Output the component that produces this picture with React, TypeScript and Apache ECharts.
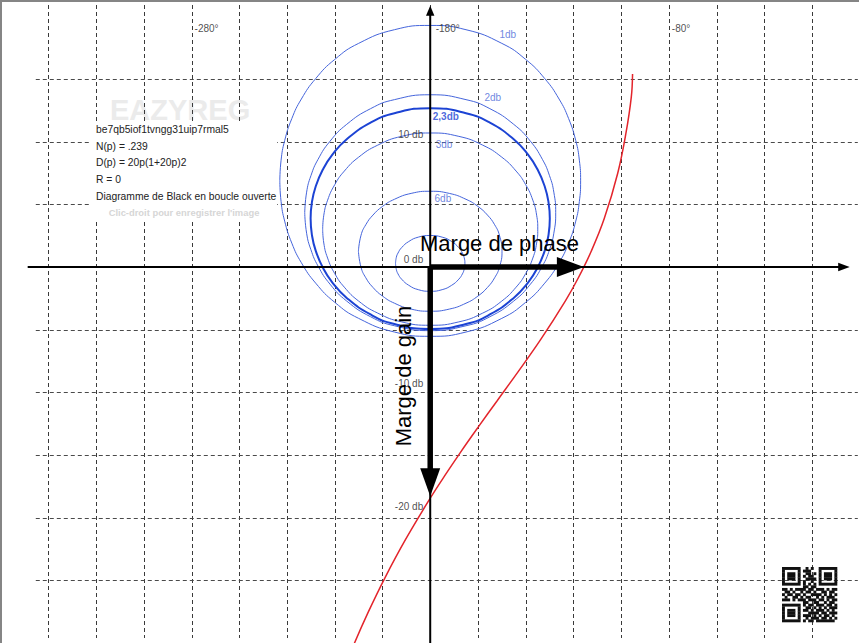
import React, { useEffect, useRef } from "react";
import * as echarts from "echarts";

const FONT = "'Liberation Sans', Arial, Helvetica, sans-serif";

// ---- axis ranges (phase in degrees, gain in dB) ----
const PHASE_MIN = -360.3;
const PHASE_MAX = -0.3;
const GAIN_MIN = -30.0;
const GAIN_MAX = 21.3;

// ---- grid ticks ----
const phaseGridTicks = [-340, -320, -300, -280, -260, -240, -220, -200, -180, -160, -140, -120, -100, -80, -60, -40, -20];
const gainGridTicks = [15, 10, 5, -5, -10, -15, -20, -25];
const phaseTickLabels = [-280, -180, -80];
const gainTickLabels = [10, 0, -10, -20];

// extents of the dashed grid (data space)
const V_GRID_TOP = 20.9;
const V_GRID_BOTTOM = -29.6;
const H_GRID_LEFT = -345.3;
const H_GRID_RIGHT = -0.8;

// ---- open loop transfer: N(p)=.239, D(p)=20p(1+20p)^2 : [phase, gain dB] ----
const openLoop = [
  [-95.2, 15.4], [-95.72, 13.57], [-98.01, 10.63], [-101.42, 7.48], [-107.06, 3.86],
  [-112.62, 1.21], [-118.07, -0.92], [-123.4, -2.72], [-133.6, -5.76], [-143.13, -8.35],
  [-151.93, -10.67], [-159.98, -12.8], [-167.32, -14.79], [-173.97, -16.67], [-180, -18.45],
  [-190.38, -21.76], [-198.92, -24.78], [-205.98, -27.54], [-211.9, -30.08], [-216.87, -32.43],
];

// ---- closed-loop iso-gain contours (Black-Nichols) ----
const m1db = [
  [-243.03, 6.87], [-242.5, 8.52], [-241, 10.08], [-238, 11.84], [-234, 13.4], [-228, 15.03], [-220, 16.56], [-210, 17.84], [-195, 18.93],
  [-180, 19.27], [-165, 18.93], [-150, 17.84], [-140, 16.56], [-132, 15.03], [-126, 13.4], [-122, 11.84], [-119, 10.08], [-117.5, 8.52],
  [-116.97, 6.87], [-117.5, 5.22], [-119, 3.66], [-122, 1.9], [-126, 0.34], [-132, -1.29], [-140, -2.82], [-150, -4.1], [-165, -5.19],
  [-180, -5.53], [-195, -5.19], [-210, -4.1], [-220, -2.82], [-228, -1.29], [-234, 0.34], [-238, 1.9], [-241, 3.66], [-242.5, 5.22],
  [-243.03, 6.87],
];
const m2db = [
  [-232.59, 4.33], [-231.8, 5.97], [-230, 7.28], [-227, 8.59], [-222, 10.03], [-215, 11.38], [-205, 12.63], [-195, 13.35],
  [-180, 13.74], [-165, 13.35], [-155, 12.63], [-145, 11.38], [-138, 10.03], [-133, 8.59], [-130, 7.28], [-128.2, 5.97],
  [-127.41, 4.33], [-128.2, 2.69], [-130, 1.38], [-133, 0.07], [-138, -1.37], [-145, -2.72], [-155, -3.97], [-165, -4.69],
  [-180, -5.08], [-195, -4.69], [-205, -3.97], [-215, -2.72], [-222, -1.37], [-227, 0.07], [-230, 1.38], [-231.8, 2.69],
  [-232.59, 4.33],
];
const m23db = [
  [-230.12, 3.86], [-229.6, 5.14], [-228, 6.42], [-225, 7.77], [-221, 8.96], [-215, 10.19], [-205, 11.51], [-195, 12.27],
  [-180, 12.67], [-165, 12.27], [-155, 11.51], [-145, 10.19], [-139, 8.96], [-135, 7.77], [-132, 6.42], [-130.4, 5.14],
  [-129.88, 3.86], [-130.4, 2.58], [-132, 1.3], [-135, -0.05], [-139, -1.24], [-145, -2.47], [-155, -3.79], [-165, -4.55],
  [-180, -4.95], [-195, -4.55], [-205, -3.79], [-215, -2.47], [-221, -1.24], [-225, -0.05], [-228, 1.3], [-229.6, 2.58],
  [-230.12, 3.86],
];
const m3db = [
  [-225.07, 3.02], [-224.6, 4.13], [-223, 5.33], [-220, 6.57], [-216, 7.65], [-210, 8.76], [-202, 9.72], [-192, 10.42],
  [-180, 10.69], [-168, 10.42], [-158, 9.72], [-150, 8.76], [-144, 7.65], [-140, 6.57], [-137, 5.33], [-135.4, 4.13],
  [-134.93, 3.02], [-135.4, 1.91], [-137, 0.71], [-140, -0.53], [-144, -1.61], [-150, -2.72], [-158, -3.68], [-168, -4.38],
  [-180, -4.65], [-192, -4.38], [-202, -3.68], [-210, -2.72], [-216, -1.61], [-220, -0.53], [-223, 0.71], [-224.6, 1.91],
  [-225.07, 3.02],
];
const m6db = [
  [-210.09, 1.26], [-209, 2.53], [-207, 3.37], [-204, 4.14], [-200, 4.83], [-195, 5.4], [-188, 5.87],
  [-180, 6.04], [-172, 5.87], [-165, 5.4], [-160, 4.83], [-156, 4.14], [-153, 3.37], [-151, 2.53],
  [-149.91, 1.26], [-151, -0.02], [-153, -0.86], [-156, -1.63], [-160, -2.32], [-165, -2.89], [-172, -3.36],
  [-180, -3.53], [-188, -3.36], [-195, -2.89], [-200, -2.32], [-204, -1.63], [-207, -0.86], [-209, -0.02],
  [-210.09, 1.26],
];
const m12db = [
  [-194.54, 0.28], [-194.2, 0.77], [-193.5, 1.11], [-192, 1.54], [-189, 2.03], [-185, 2.38],
  [-180, 2.51], [-175, 2.38], [-171, 2.03], [-168, 1.54], [-166.5, 1.11], [-165.8, 0.77],
  [-165.46, 0.28], [-165.8, -0.2], [-166.5, -0.55], [-168, -0.97], [-171, -1.46], [-175, -1.81],
  [-180, -1.94], [-185, -1.81], [-189, -1.46], [-192, -0.97], [-193.5, -0.55], [-194.2, -0.2],
  [-194.54, 0.28],
];

const contourNames = ["1db", "2db", "2,3db", "3db", "6db", "12db"];
const contourData = [m1db, m2db, m23db, m3db, m6db, m12db];

// label anchors for contour names [phase, gain]
const contourLabelNames = ["1db", "2db", "2,3db", "3db", "6db"];
const contourLabelAnchors = [[-151.2, 18.51], [-157.5, 13.51], [-179.15, 11.99], [-177.9, 9.79], [-178.4, 5.48]];

// margins
const phaseMarginPhase = -115.6; // phase where gain crosses 0 dB
const gainMarginGain = -18.3; // gain where phase crosses -180°

// axes extents
const axisHLeft = -348.7;
const axisHRight = -4.2;
const axisVTop = 20.85;

const infoLines = [
  "be7qb5iof1tvngg31uip7rmal5",
  "N(p) = .239",
  "D(p) = 20p(1+20p)2",
  "R = 0",
  "Diagramme de Black en boucle ouverte",
];
const infoLineY = [129.5, 146, 162, 179, 196];

const qrRows = [
  "111111100101001111111",
  "100000101110001000001",
  "101110100110101011101",
  "101110101011001011101",
  "101110100111101011101",
  "100000101001001000001",
  "111111101010101111111",
  "000000001101100000000",
  "110101111011011101011",
  "011010010110100110110",
  "101101101001111010101",
  "010011010110010101110",
  "111010111011101101011",
  "000000001100110010110",
  "111111101011011101101",
  "100000100110101010111",
  "101110101101011101010",
  "101110100011110110111",
  "101110101110101011010",
  "100000100101110110101",
  "111111101011011111110",
];

const BLUE = "#4565dc";
const BLUE_DARK = "#1c43d4";
const LABEL_BLUE = "#4a68d8";

function qrElements() {
  const x0 = 782, y0 = 567, cell = 55 / 21;
  const els: any[] = [];
  qrRows.forEach((row, r) => {
    let c = 0;
    while (c < row.length) {
      if (row[c] === "1") {
        let e = c;
        while (e < row.length && row[e] === "1") e++;
        els.push({
          type: "rect",
          shape: { x: x0 + c * cell, y: y0 + r * cell, width: (e - c) * cell + 0.3, height: cell + 0.3 },
          style: { fill: "#111" },
          z: 20,
          silent: true,
        });
        c = e;
      } else c++;
    }
  });
  return els;
}

export default function App() {
  const ref = useRef<HTMLDivElement>(null);
  useEffect(() => {
    document.body.style.margin = "0";
    if (!ref.current) return;
    const chart = echarts.init(ref.current, null, { renderer: "svg" });

    const arrowShaft = [2, 2, 5.5, 5.5];
    const arrowHead = [[11.5, 4.2], [10, 4.2], [27, 10], [28, 10]];

    const contourSeries = contourData.map((d, i) => ({
      type: "line",
      name: contourNames[i],
      data: d,
      showSymbol: false,
      symbol: "none",
      smooth: 0.5,
      silent: true,
      z: 3,
      lineStyle: { color: i === 2 ? BLUE_DARK : BLUE, width: i === 2 ? 2 : 1 },
    }));

    const option: any = {
      animation: false,
      backgroundColor: "#ffffff",
      grid: { left: 0, top: 0, right: 0, bottom: 0, containLabel: false },
      xAxis: { type: "value", min: PHASE_MIN, max: PHASE_MAX, show: false },
      yAxis: { type: "value", min: GAIN_MIN, max: GAIN_MAX, show: false },
      series: [
        {
          type: "custom",
          name: "phaseGrid",
          silent: true,
          z: 1,
          clip: false,
          data: phaseGridTicks.map((p) => [p, V_GRID_TOP, V_GRID_BOTTOM]),
          encode: { x: 0, y: [1, 2] },
          renderItem: (params: any, api: any) => {
            const a = api.coord([api.value(0), api.value(1)]);
            const b = api.coord([api.value(0), api.value(2)]);
            const x = Math.round(a[0]) + 0.5;
            return {
              type: "line",
              shape: { x1: x, y1: a[1], x2: x, y2: b[1] },
              style: { stroke: "#3a3a3a", lineWidth: 1, lineDash: [4, 3] },
            };
          },
        },
        {
          type: "custom",
          name: "gainGrid",
          silent: true,
          z: 1,
          clip: false,
          data: gainGridTicks.map((g) => [H_GRID_LEFT, H_GRID_RIGHT, g]),
          encode: { x: [0, 1], y: 2 },
          renderItem: (params: any, api: any) => {
            const a = api.coord([api.value(0), api.value(2)]);
            const b = api.coord([api.value(1), api.value(2)]);
            const y = Math.round(a[1]) + 0.5;
            return {
              type: "line",
              shape: { x1: a[0], y1: y, x2: b[0], y2: y },
              style: { stroke: "#4a4a4a", lineWidth: 1, lineDash: [4, 3] },
            };
          },
        },
        ...contourSeries,
        {
          type: "line",
          name: "Boucle ouverte",
          data: openLoop,
          showSymbol: false,
          symbol: "none",
          smooth: 0.4,
          silent: true,
          z: 4,
          lineStyle: { color: "#e3242b", width: 1.5 },
        },
        {
          type: "custom",
          name: "arrows",
          silent: true,
          z: 6,
          clip: false,
          data: [
            [axisHLeft, 0, axisHRight, 0],
            [-180, GAIN_MIN, -180, axisVTop],
            [-180, 0, phaseMarginPhase, 0],
            [-180, 0, -180, gainMarginGain],
          ],
          encode: { x: [0, 2], y: [1, 3] },
          renderItem: (params: any, api: any) => {
            const i = params.dataIndex;
            const p1 = api.coord([api.value(0), api.value(1)]);
            const p2 = api.coord([api.value(2), api.value(3)]);
            const dx = p2[0] - p1[0];
            const dy = p2[1] - p1[1];
            const L = Math.hypot(dx, dy) || 1;
            const ux = dx / L, uy = dy / L;
            const [hl, hw] = arrowHead[i];
            const bx = p2[0] - ux * hl;
            const by = p2[1] - uy * hl;
            return {
              type: "group",
              children: [
                {
                  type: "line",
                  shape: { x1: p1[0], y1: p1[1], x2: bx + ux * 1.5, y2: by + uy * 1.5 },
                  style: { stroke: "#000", lineWidth: arrowShaft[i] },
                },
                {
                  type: "polygon",
                  shape: { points: [[p2[0], p2[1]], [bx - uy * hw, by + ux * hw], [bx + uy * hw, by - ux * hw]] },
                  style: { fill: "#000" },
                },
              ],
            };
          },
        },
        {
          type: "scatter",
          name: "phaseLabels",
          silent: true,
          z: 7,
          symbolSize: 1,
          itemStyle: { color: "rgba(0,0,0,0)" },
          data: phaseTickLabels.map((p) => ({
            value: [p, 18.99],
            label: { distance: p === -180 ? 5 : 2.5 },
          })),
          label: {
            show: true,
            position: "right",
            formatter: (p: any) => `${p.value[0]}°`,
            fontFamily: FONT,
            fontSize: 10,
            color: "#222",
          },
        },
        {
          type: "scatter",
          name: "gainLabels",
          silent: true,
          z: 7,
          symbolSize: 1,
          itemStyle: { color: "rgba(0,0,0,0)" },
          data: gainTickLabels.map((g, i) => ({
            value: [-180, g],
            label: { offset: [0, -[6.7, 7.7, 9, 10.7][i]] },
          })),
          label: {
            show: true,
            position: "left",
            distance: 6.5,
            formatter: (p: any) => `${p.value[1]} db`,
            fontFamily: FONT,
            fontSize: 10,
            color: "#222",
          },
        },
        {
          type: "scatter",
          name: "contourLabels",
          silent: true,
          z: 7,
          symbolSize: 1,
          itemStyle: { color: "rgba(0,0,0,0)" },
          data: contourLabelAnchors.map((a, i) => ({
            value: a,
            name: contourLabelNames[i],
            label:
              contourLabelNames[i] === "2,3db"
                ? { fontWeight: "bold", color: BLUE_DARK }
                : {},
          })),
          label: {
            show: true,
            position: "right",
            distance: 0,
            formatter: (p: any) => p.name,
            fontFamily: FONT,
            fontSize: 10,
            color: LABEL_BLUE,
          },
        },
      ],
      graphic: [
        {
          type: "text",
          z: 0,
          silent: true,
          x: 110,
          y: 109.5,
          style: {
            text: "EAZYREG",
            fontFamily: FONT,
            fontSize: 29,
            fontWeight: "bold",
            fill: "#ebebeb",
            textAlign: "left",
            textVerticalAlign: "middle",
          },
        },
        {
          type: "rect",
          z: 10,
          silent: true,
          shape: { x: 90, y: 123, width: 187, height: 96 },
          style: { fill: "#ffffff" },
        },
        ...infoLines.map((t, i) => ({
          type: "text",
          z: 11,
          silent: true,
          x: 96,
          y: infoLineY[i],
          style: {
            text: t,
            fontFamily: FONT,
            fontSize: 10.3,
            fill: "#222",
            textAlign: "left",
            textVerticalAlign: "middle",
          },
        })),
        {
          type: "text",
          z: 11,
          silent: true,
          x: 184,
          y: 212,
          style: {
            text: "Clic-droit pour enregistrer l'image",
            fontFamily: FONT,
            fontSize: 9.4,
            fontWeight: "bold",
            fill: "#d6d6d6",
            textAlign: "center",
            textVerticalAlign: "middle",
          },
        },
        {
          type: "text",
          z: 12,
          silent: true,
          x: 420,
          y: 243,
          style: {
            text: "Marge de phase",
            fontFamily: FONT,
            fontSize: 22,
            fill: "#000",
            textAlign: "left",
            textVerticalAlign: "middle",
          },
        },
        {
          type: "text",
          z: 12,
          silent: true,
          x: 403,
          y: 376,
          rotation: Math.PI / 2,
          style: {
            text: "Marge de gain",
            fontFamily: FONT,
            fontSize: 22,
            fill: "#000",
            textAlign: "center",
            textVerticalAlign: "middle",
          },
        },
        ...qrElements(),
        {
          type: "rect",
          z: 30,
          silent: true,
          shape: { x: 0, y: 0, width: 859, height: 2 },
          style: { fill: "#858585" },
        },
        {
          type: "rect",
          z: 30,
          silent: true,
          shape: { x: 0, y: 0, width: 2, height: 643 },
          style: { fill: "#858585" },
        },
      ],
    };

    chart.setOption(option);
    return () => {
      chart.dispose();
    };
  }, []);

  return (
    <div
      ref={ref}
      style={{ position: "fixed", left: 0, top: 0, width: 859, height: 643, background: "#fff" }}
    />
  );
}
